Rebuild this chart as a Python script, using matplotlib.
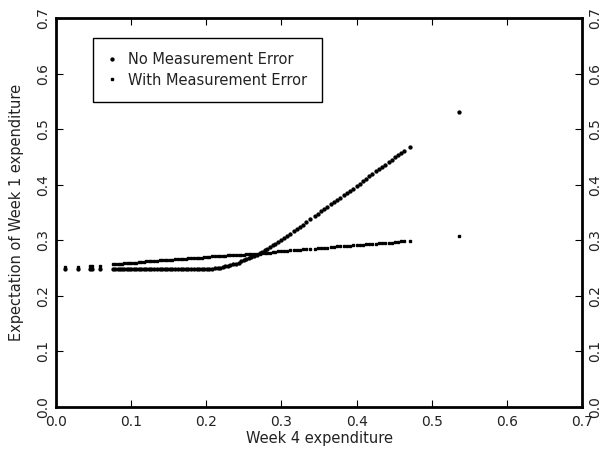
import matplotlib
matplotlib.use("Agg")
import matplotlib.pyplot as plt

plt.rcParams['font.family'] = ['DejaVu Sans']

week4 = [0.012, 0.029, 0.045, 0.048, 0.058, 0.076, 0.079, 0.082, 0.085, 0.088,
         0.091, 0.094, 0.097, 0.100, 0.104, 0.107, 0.110, 0.113, 0.117, 0.120,
         0.124, 0.127, 0.131, 0.134, 0.138, 0.141, 0.145, 0.148, 0.152, 0.155,
         0.159, 0.162, 0.166, 0.169, 0.173, 0.176, 0.180, 0.183, 0.187, 0.190,
         0.194, 0.197, 0.201, 0.204, 0.208, 0.211, 0.215, 0.218, 0.222, 0.225,
         0.229, 0.232, 0.236, 0.239, 0.243, 0.246, 0.250, 0.253, 0.257, 0.260,
         0.264, 0.267, 0.271, 0.274, 0.278, 0.281, 0.285, 0.289, 0.292, 0.296,
         0.299, 0.303, 0.307, 0.311, 0.316, 0.320, 0.324, 0.328, 0.333, 0.338,
         0.344, 0.349, 0.353, 0.357, 0.361, 0.366, 0.370, 0.374, 0.378, 0.383,
         0.387, 0.391, 0.395, 0.400, 0.404, 0.409, 0.413, 0.417, 0.421, 0.426,
         0.430, 0.434, 0.438, 0.443, 0.447, 0.451, 0.455, 0.459, 0.463, 0.471,
         0.536]

no_error = [0.248, 0.248, 0.248, 0.248, 0.248, 0.248, 0.248, 0.248, 0.248, 0.248,
            0.248, 0.248, 0.248, 0.248, 0.248, 0.248, 0.248, 0.248, 0.248, 0.248,
            0.248, 0.248, 0.248, 0.248, 0.248, 0.248, 0.248, 0.248, 0.248, 0.248,
            0.248, 0.248, 0.248, 0.248, 0.248, 0.248, 0.248, 0.248, 0.248, 0.248,
            0.248, 0.248, 0.248, 0.249, 0.249, 0.250, 0.250, 0.251, 0.252, 0.253,
            0.254, 0.255, 0.257, 0.258, 0.260, 0.262, 0.264, 0.266, 0.268, 0.270,
            0.272, 0.274, 0.277, 0.279, 0.282, 0.285, 0.288, 0.291, 0.294, 0.297,
            0.300, 0.304, 0.308, 0.312, 0.316, 0.320, 0.324, 0.328, 0.333, 0.338,
            0.343, 0.348, 0.352, 0.356, 0.360, 0.365, 0.369, 0.373, 0.377, 0.381,
            0.385, 0.389, 0.393, 0.398, 0.402, 0.407, 0.411, 0.415, 0.419, 0.424,
            0.428, 0.432, 0.436, 0.441, 0.445, 0.449, 0.453, 0.457, 0.461, 0.468,
            0.531]

with_error = [0.252, 0.252, 0.253, 0.253, 0.253, 0.257, 0.257, 0.258, 0.258, 0.258,
              0.259, 0.259, 0.259, 0.260, 0.260, 0.260, 0.261, 0.261, 0.261, 0.262,
              0.262, 0.262, 0.263, 0.263, 0.264, 0.264, 0.264, 0.265, 0.265, 0.265,
              0.266, 0.266, 0.267, 0.267, 0.267, 0.268, 0.268, 0.268, 0.269, 0.269,
              0.269, 0.270, 0.270, 0.270, 0.271, 0.271, 0.271, 0.272, 0.272, 0.272,
              0.273, 0.273, 0.273, 0.273, 0.274, 0.274, 0.274, 0.275, 0.275, 0.275,
              0.276, 0.276, 0.276, 0.277, 0.277, 0.278, 0.278, 0.279, 0.279, 0.280,
              0.280, 0.281, 0.281, 0.282, 0.282, 0.283, 0.283, 0.284, 0.284, 0.285,
              0.285, 0.286, 0.286, 0.287, 0.287, 0.288, 0.288, 0.289, 0.289, 0.290,
              0.290, 0.290, 0.291, 0.291, 0.292, 0.292, 0.293, 0.293, 0.294, 0.294,
              0.295, 0.295, 0.295, 0.296, 0.296, 0.297, 0.297, 0.298, 0.298, 0.299,
              0.308]

ticks = [0.0, 0.1, 0.2, 0.3, 0.4, 0.5, 0.6, 0.7]
tick_labels = ["0.0", "0.1", "0.2", "0.3", "0.4", "0.5", "0.6", "0.7"]

text_color = '#222222'

fig = plt.figure(figsize=(6.02, 4.57), dpi=100)
ax = fig.add_axes([0.093, 0.1094, 0.874, 0.8512])

ax.plot(week4, no_error, linestyle='none', marker='o', ms=2.1, color='black',
        mec='black', label='No Measurement Error')
ax.plot(week4, with_error, linestyle='none', marker='s', ms=2.0, color='black',
        mec='black', label='With Measurement Error')

ax.set_xlim(0, 0.7)
ax.set_ylim(0, 0.7)
ax.set_xticks(ticks)
ax.set_xticklabels(tick_labels)
ax.set_yticks(ticks)
ax.set_yticklabels(tick_labels)

for s in ax.spines.values():
    s.set_linewidth(2.0)

ax.tick_params(axis='both', which='both', direction='in', length=5, width=0.8,
               top=True, right=True, labelsize=10, colors='black',
               labelcolor=text_color)
ax.tick_params(axis='y', labelright=True, labelrotation=90, pad=4)
ax.tick_params(axis='x', pad=6)
for t in ax.yaxis.get_major_ticks():
    t.label2.set_va('center')
    t.label1.set_va('center')

ax.set_xlabel('Week 4 expenditure', fontsize=10.5, labelpad=1, color=text_color)
ax.set_ylabel('Expectation of Week 1 expenditure', fontsize=10.5, labelpad=9,
              color=text_color)

leg = ax.legend(loc='upper left', bbox_to_anchor=(0.07, 0.949), borderaxespad=0,
                fancybox=False, edgecolor='black', framealpha=1, fontsize=10.5,
                handlelength=0.6, handletextpad=0.8, markerscale=1.0,
                borderpad=1.0, labelspacing=0.35, labelcolor=text_color)
leg.get_frame().set_linewidth(1.0)

fig.savefig('out.png', dpi=100)
